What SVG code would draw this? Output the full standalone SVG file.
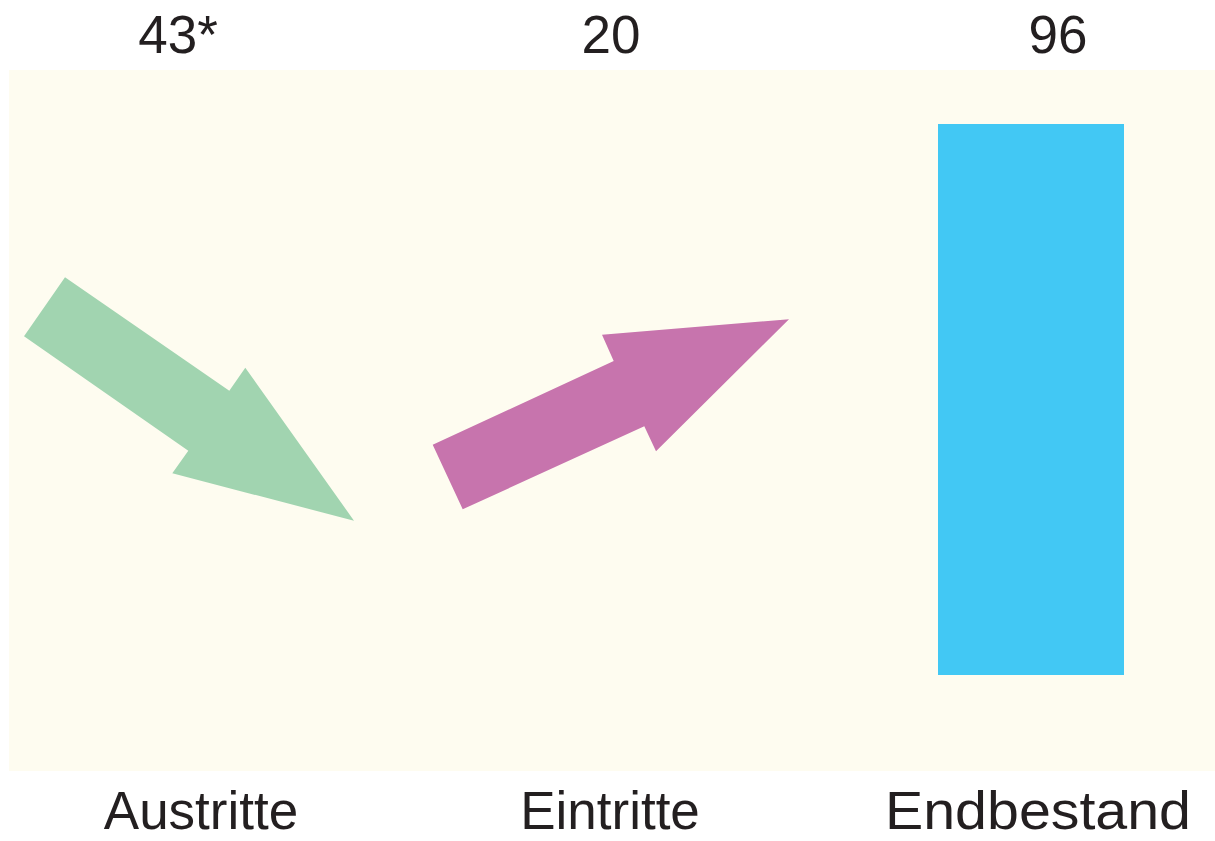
<svg xmlns="http://www.w3.org/2000/svg" width="1215" height="841" viewBox="0 0 1215 841">
<style>
text{font-family:"Liberation Sans",Arial,sans-serif;font-size:53px;fill:#231F20;text-anchor:middle}
</style>
<rect width="1215" height="841" fill="#FFFFFF"/>
<rect id="panel" x="9" y="70" width="1206" height="701" fill="#FEFCF0"/>
<g id="connectors">
<polygon id="austritte-arrow" points="65,277.3 229.3,390.7 245.3,367.7 354,520.7 172.3,473.3 188.3,450.7 24,336.3" fill="#A1D4B0"/>
<polygon id="eintritte-arrow" points="432.7,444.7 613.7,361 602,334.7 789,319.3 656,451.3 644.3,426.3 462.7,509.3" fill="#C774AD"/>
</g>
<g id="endbestand-bar">
<rect x="938" y="124" width="186" height="551" fill="#42C8F4"/>
</g>
<g id="labels-top">
<text x="178" y="53">43*</text>
<text x="611" y="53">20</text>
<text x="1058" y="53">96</text>
</g>
<g id="labels-bottom">
<text x="201" y="829">Austritte</text>
<text x="610" y="829">Eintritte</text>
<text x="1038" y="829" textLength="306" lengthAdjust="spacingAndGlyphs">Endbestand</text>
</g>
</svg>
